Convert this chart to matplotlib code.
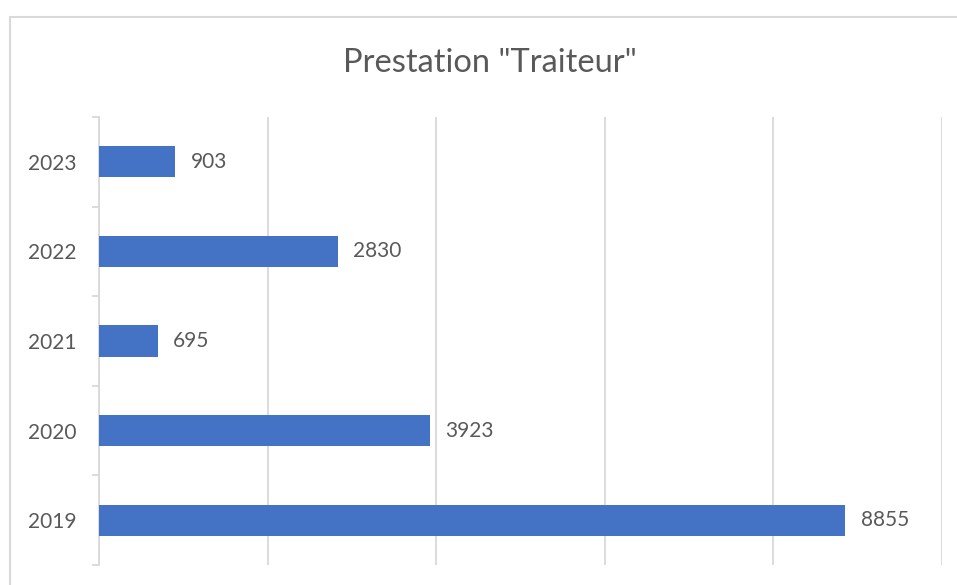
import matplotlib
matplotlib.use("Agg")
import matplotlib.pyplot as plt
from matplotlib.patches import Rectangle
import numpy as np

years = ["2019", "2020", "2021", "2022", "2023"]
values = [8855, 3923, 695, 2830, 903]
title = 'Prestation "Traiteur"'
x_max = 10000
x_step = 2000

W, H = 957, 585
fig = plt.figure(figsize=(W / 100, H / 100), dpi=100)
plt.rcParams['font.family'] = ['Lato', 'DejaVu Sans']

text_color = "#595959"
grid_color = "#d9d9d9"
bar_color = "#4472C4"

# outer chart border (partially cropped)
fig.patches.append(Rectangle((10 / W, -0.1), 1.2, (H - 17) / H + 0.1,
                             transform=fig.transFigure, fill=False,
                             edgecolor=grid_color, linewidth=1.5, clip_on=False))

ax = fig.add_axes([99 / W, (H - 565) / H, (942 - 99) / W, (565 - 117) / H])
y = np.arange(len(years))
ax.barh(y, values, height=0.35, color=bar_color, zorder=3)
ax.set_xlim(0, x_max)
ax.set_ylim(-0.5, len(years) - 0.5)

ax.set_xticks(np.arange(0, x_max + 1, x_step))
ax.tick_params(axis='x', length=0, labelbottom=False)
ax.grid(axis='x', color=grid_color, linewidth=1.3, zorder=0)

ax.set_yticks(y)
ax.set_yticklabels(years)
ax.tick_params(axis='y', which='major', length=0, pad=16, labelsize=15, labelcolor=text_color)
ax.set_yticks(np.arange(-0.5, len(years), 1.0), minor=True)
ax.tick_params(axis='y', which='minor', length=5, width=1.3, color=grid_color)

for s in ['top', 'right', 'bottom']:
    ax.spines[s].set_visible(False)
ax.spines['left'].set_color(grid_color)
ax.spines['left'].set_linewidth(1.3)

for yi, v in zip(y, values):
    ax.annotate(f"{v}", (v, yi), xytext=(11, 0), textcoords='offset points',
                va='center', ha='left', fontsize=15, color=text_color)

fig.text((337 + 643) / 2 / W, (H - 63) / H, title, ha='center', va='center',
         fontsize=23.5, color=text_color)

fig.savefig("out.png", dpi=100)
